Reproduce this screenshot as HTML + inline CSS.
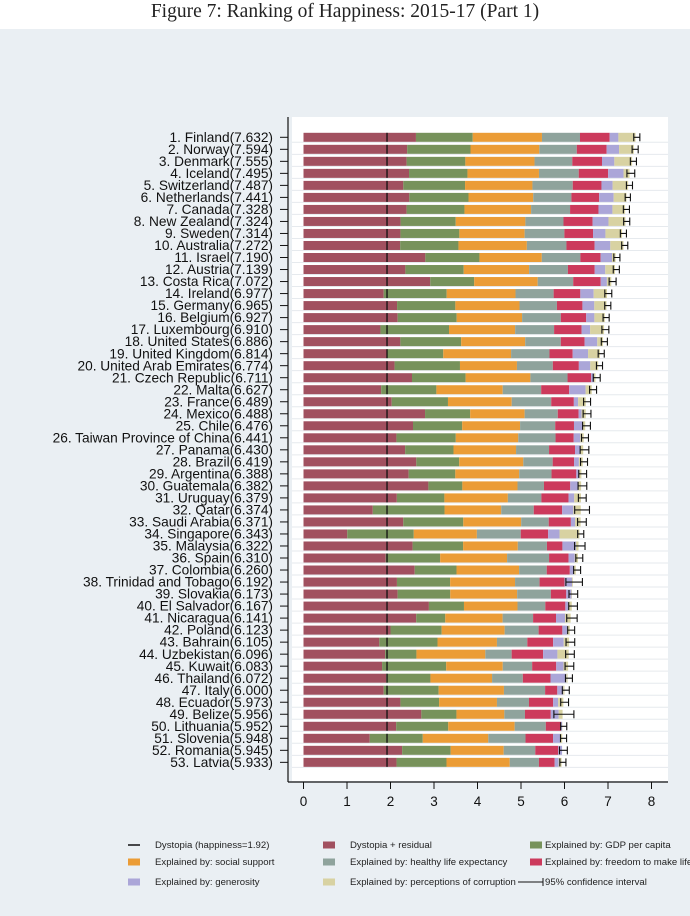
<!DOCTYPE html>
<html><head><meta charset="utf-8"><style>
html,body{margin:0;padding:0;}
body{width:690px;height:916px;background:#eaeff3;position:relative;overflow:hidden;font-family:"Liberation Sans",sans-serif;}
#title{position:absolute;left:0;top:0;width:690px;height:29px;background:#fff;text-align:center;font-family:"Liberation Serif",serif;font-size:19.5px;line-height:24px;color:#222;}
svg{position:absolute;left:0;top:0;}
</style></head><body>
<div id="title">Figure 7: Ranking of Happiness: 2015-17 (Part 1)</div>
<svg id="s" width="690" height="916" xmlns="http://www.w3.org/2000/svg"></svg>
<script>
const D=[
["1. Finland(7.632)",2.585,1.305,1.592,0.874,0.681,0.202,0.393,.07],
["2. Norway(7.594)",2.383,1.456,1.582,0.861,0.686,0.286,0.340,.07],
["3. Denmark(7.555)",2.370,1.351,1.590,0.868,0.683,0.284,0.408,.07],
["4. Iceland(7.495)",2.426,1.343,1.644,0.914,0.677,0.353,0.138,.09],
["5. Switzerland(7.487)",2.294,1.420,1.549,0.927,0.660,0.256,0.357,.07],
["6. Netherlands(7.441)",2.432,1.361,1.488,0.878,0.638,0.333,0.295,.06],
["7. Canada(7.328)",2.370,1.330,1.532,0.896,0.653,0.321,0.291,.07],
["8. New Zealand(7.324)",2.232,1.268,1.601,0.876,0.669,0.365,0.389,.07],
["9. Sweden(7.314)",2.228,1.355,1.501,0.913,0.659,0.285,0.383,.07],
["10. Australia(7.272)",2.222,1.340,1.573,0.910,0.647,0.361,0.302,.07],
["11. Israel(7.190)",2.801,1.244,1.433,0.888,0.464,0.262,0.082,.07],
["12. Austria(7.139)",2.342,1.341,1.504,0.891,0.617,0.242,0.224,.07],
["13. Costa Rica(7.072)",2.914,1.010,1.459,0.817,0.632,0.143,0.101,.08],
["14. Ireland(6.977)",1.843,1.448,1.583,0.876,0.614,0.307,0.306,.08],
["15. Germany(6.965)",2.151,1.340,1.474,0.861,0.586,0.273,0.280,.07],
["16. Belgium(6.927)",2.165,1.356,1.504,0.891,0.583,0.188,0.240,.07],
["17. Luxembourg(6.910)",1.769,1.576,1.520,0.896,0.632,0.196,0.321,.08],
["18. United States(6.886)",2.227,1.398,1.471,0.819,0.547,0.291,0.133,.07],
["19. United Kingdom(6.814)",1.912,1.301,1.559,0.883,0.533,0.354,0.272,.07],
["20. United Arab Emirates(6.774)",2.094,1.503,1.310,0.825,0.598,0.262,0.182,.07],
["21. Czech Republic(6.711)",2.494,1.233,1.489,0.854,0.543,0.064,0.034,.08],
["22. Malta(6.627)",1.785,1.270,1.525,0.884,0.645,0.376,0.142,.08],
["23. France(6.489)",2.028,1.293,1.466,0.908,0.520,0.098,0.176,.08],
["24. Mexico(6.488)",2.794,1.038,1.252,0.761,0.479,0.069,0.095,.09],
["25. Chile(6.476)",2.517,1.131,1.331,0.808,0.431,0.197,0.061,.09],
["26. Taiwan Province of China(6.441)",2.136,1.365,1.436,0.857,0.418,0.151,0.078,.08],
["27. Panama(6.430)",2.336,1.112,1.438,0.759,0.597,0.125,0.063,.1],
["28. Brazil(6.419)",2.593,0.986,1.474,0.675,0.493,0.110,0.088,.08],
["29. Argentina(6.388)",2.417,1.073,1.468,0.744,0.570,0.062,0.054,.09],
["30. Guatemala(6.382)",2.871,0.781,1.268,0.608,0.604,0.179,0.071,.1],
["31. Uruguay(6.379)",2.146,1.093,1.459,0.771,0.625,0.130,0.155,.09],
["32. Qatar(6.374)",1.593,1.649,1.303,0.748,0.654,0.256,0.171,.17],
["33. Saudi Arabia(6.371)",2.294,1.379,1.331,0.633,0.509,0.098,0.127,.1],
["34. Singapore(6.343)",1.006,1.529,1.451,1.008,0.631,0.261,0.457,.07],
["35. Malaysia(6.322)",2.508,1.161,1.258,0.669,0.356,0.311,0.059,.12],
["36. Spain(6.310)",1.891,1.251,1.538,0.965,0.449,0.142,0.074,.08],
["37. Colombia(6.260)",2.557,0.960,1.439,0.635,0.531,0.099,0.039,.08],
["38. Trinidad and Tobago(6.192)",2.148,1.223,1.492,0.564,0.575,0.171,0.019,.19],
["39. Slovakia(6.173)",2.164,1.210,1.537,0.776,0.354,0.118,0.014,.1],
["40. El Salvador(6.167)",2.883,0.806,1.231,0.639,0.461,0.065,0.082,.1],
["41. Nicaragua(6.141)",2.591,0.668,1.319,0.700,0.527,0.208,0.128,.12],
["42. Poland(6.123)",2.000,1.176,1.448,0.781,0.546,0.108,0.064,.08],
["43. Bahrain(6.105)",1.743,1.338,1.366,0.698,0.594,0.243,0.123,.1],
["44. Uzbekistan(6.096)",1.877,0.719,1.584,0.605,0.724,0.328,0.259,.1],
["45. Kuwait(6.083)",1.806,1.474,1.301,0.675,0.554,0.167,0.106,.1],
["46. Thailand(6.072)",1.902,1.016,1.417,0.707,0.637,0.364,0.029,.08],
["47. Italy(6.000)",1.843,1.264,1.501,0.946,0.281,0.137,0.028,.08],
["48. Ecuador(5.973)",2.228,0.889,1.330,0.736,0.556,0.114,0.120,.09],
["49. Belize(5.956)",2.709,0.807,1.101,0.474,0.593,0.183,0.089,.23],
["50. Lithuania(5.952)",2.130,1.197,1.527,0.716,0.350,0.026,0.006,.07],
["51. Slovenia(5.948)",1.523,1.219,1.506,0.856,0.633,0.160,0.051,.07],
["52. Romania(5.945)",2.267,1.116,1.219,0.726,0.528,0.088,0.001,.09],
["53. Latvia(5.933)",2.139,1.148,1.454,0.671,0.363,0.092,0.066,.07]];
const C=["#a1505f","#77925b","#eb9c36","#8fa39c","#cc3a5c","#aba6d8","#d8d2a2"];
const X0=303.5,S=43.5;
let h='';
h+='<rect x="292" y="117" width="376" height="664" fill="#fff"/>';
D.forEach((d,i)=>{
 const y=137.3+i*12.02;
 h+=`<line x1="292" x2="668" y1="${y+5}" y2="${y+5}" stroke="#e6eaee" stroke-width="1"/>`;
 let x=X0,tot=0;
 for(let k=1;k<=7;k++){const w=d[k]*S;h+=`<rect x="${x.toFixed(2)}" y="${(y-4.5).toFixed(2)}" width="${w.toFixed(2)}" height="9" fill="${C[k-1]}"/>`;x+=w;tot+=d[k];}
 h+=`<line x1="${X0+1.92*S}" x2="${X0+1.92*S}" y1="${y-4.5}" y2="${y+4.5}" stroke="#111" stroke-width="1.3"/>`;
 const a=X0+(tot-d[8]+0.03)*S,b=X0+(tot+d[8]+0.03)*S;
 h+=`<path d="M${a} ${y-4}V${y+4}M${a} ${y}H${b}M${b} ${y-4}V${y+4}" stroke="#111" stroke-width="1.1" fill="none"/>`;
 h+=`<line x1="280" x2="288" y1="${y}" y2="${y}" stroke="#111" stroke-width="1"/>`;
 h+=`<text x="273" y="${y+4.6}" text-anchor="end" font-size="13.7" fill="#111" font-family="Liberation Sans, sans-serif">${d[0]}</text>`;
});
h+='<line x1="288" x2="288" y1="117" y2="782" stroke="#111" stroke-width="1.2"/>';
h+='<line x1="288" x2="668" y1="782" y2="782" stroke="#111" stroke-width="1.2"/>';
for(let t=0;t<=8;t++){const x=X0+t*S;h+=`<line x1="${x}" x2="${x}" y1="782" y2="789" stroke="#111"/><text x="${x}" y="806" text-anchor="middle" font-size="13.5" fill="#111" font-family="Liberation Sans, sans-serif">${t}</text>`;}
const L=[["line","Dystopia (happiness=1.92)"],[C[0],"Dystopia + residual"],[C[1],"Explained by: GDP per capita"],
[C[2],"Explained by: social support"],[C[3],"Explained by: healthy life expectancy"],[C[4],"Explained by: freedom to make life choices"],
[C[5],"Explained by: generosity"],[C[6],"Explained by: perceptions of corruption"],["ci","95% confidence interval"]];
const cx=[128,323,530],tx=[155,350,545],ly=[845,862,882];
L.forEach((l,i)=>{const c=i%3,r=Math.floor(i/3),y=ly[r];
 if(l[0]=="line")h+=`<line x1="${cx[c]}" x2="${cx[c]+12}" y1="${y}" y2="${y}" stroke="#111" stroke-width="1.5"/>`;
 else if(l[0]=="ci")h+=`<path d="M${cx[c]-12} ${y}H${cx[c]+13}M${cx[c]+13} ${y-4}V${y+4}" stroke="#111" fill="none"/>`;
 else h+=`<rect x="${cx[c]}" y="${y-3.5}" width="12" height="7" fill="${l[0]}"/>`;
 h+=`<text x="${tx[c]}" y="${y+3.2}" font-size="9.6" fill="#222" font-family="Liberation Sans, sans-serif">${l[1]}</text>`;});
document.getElementById('s').innerHTML=h;
</script>
</body></html>
